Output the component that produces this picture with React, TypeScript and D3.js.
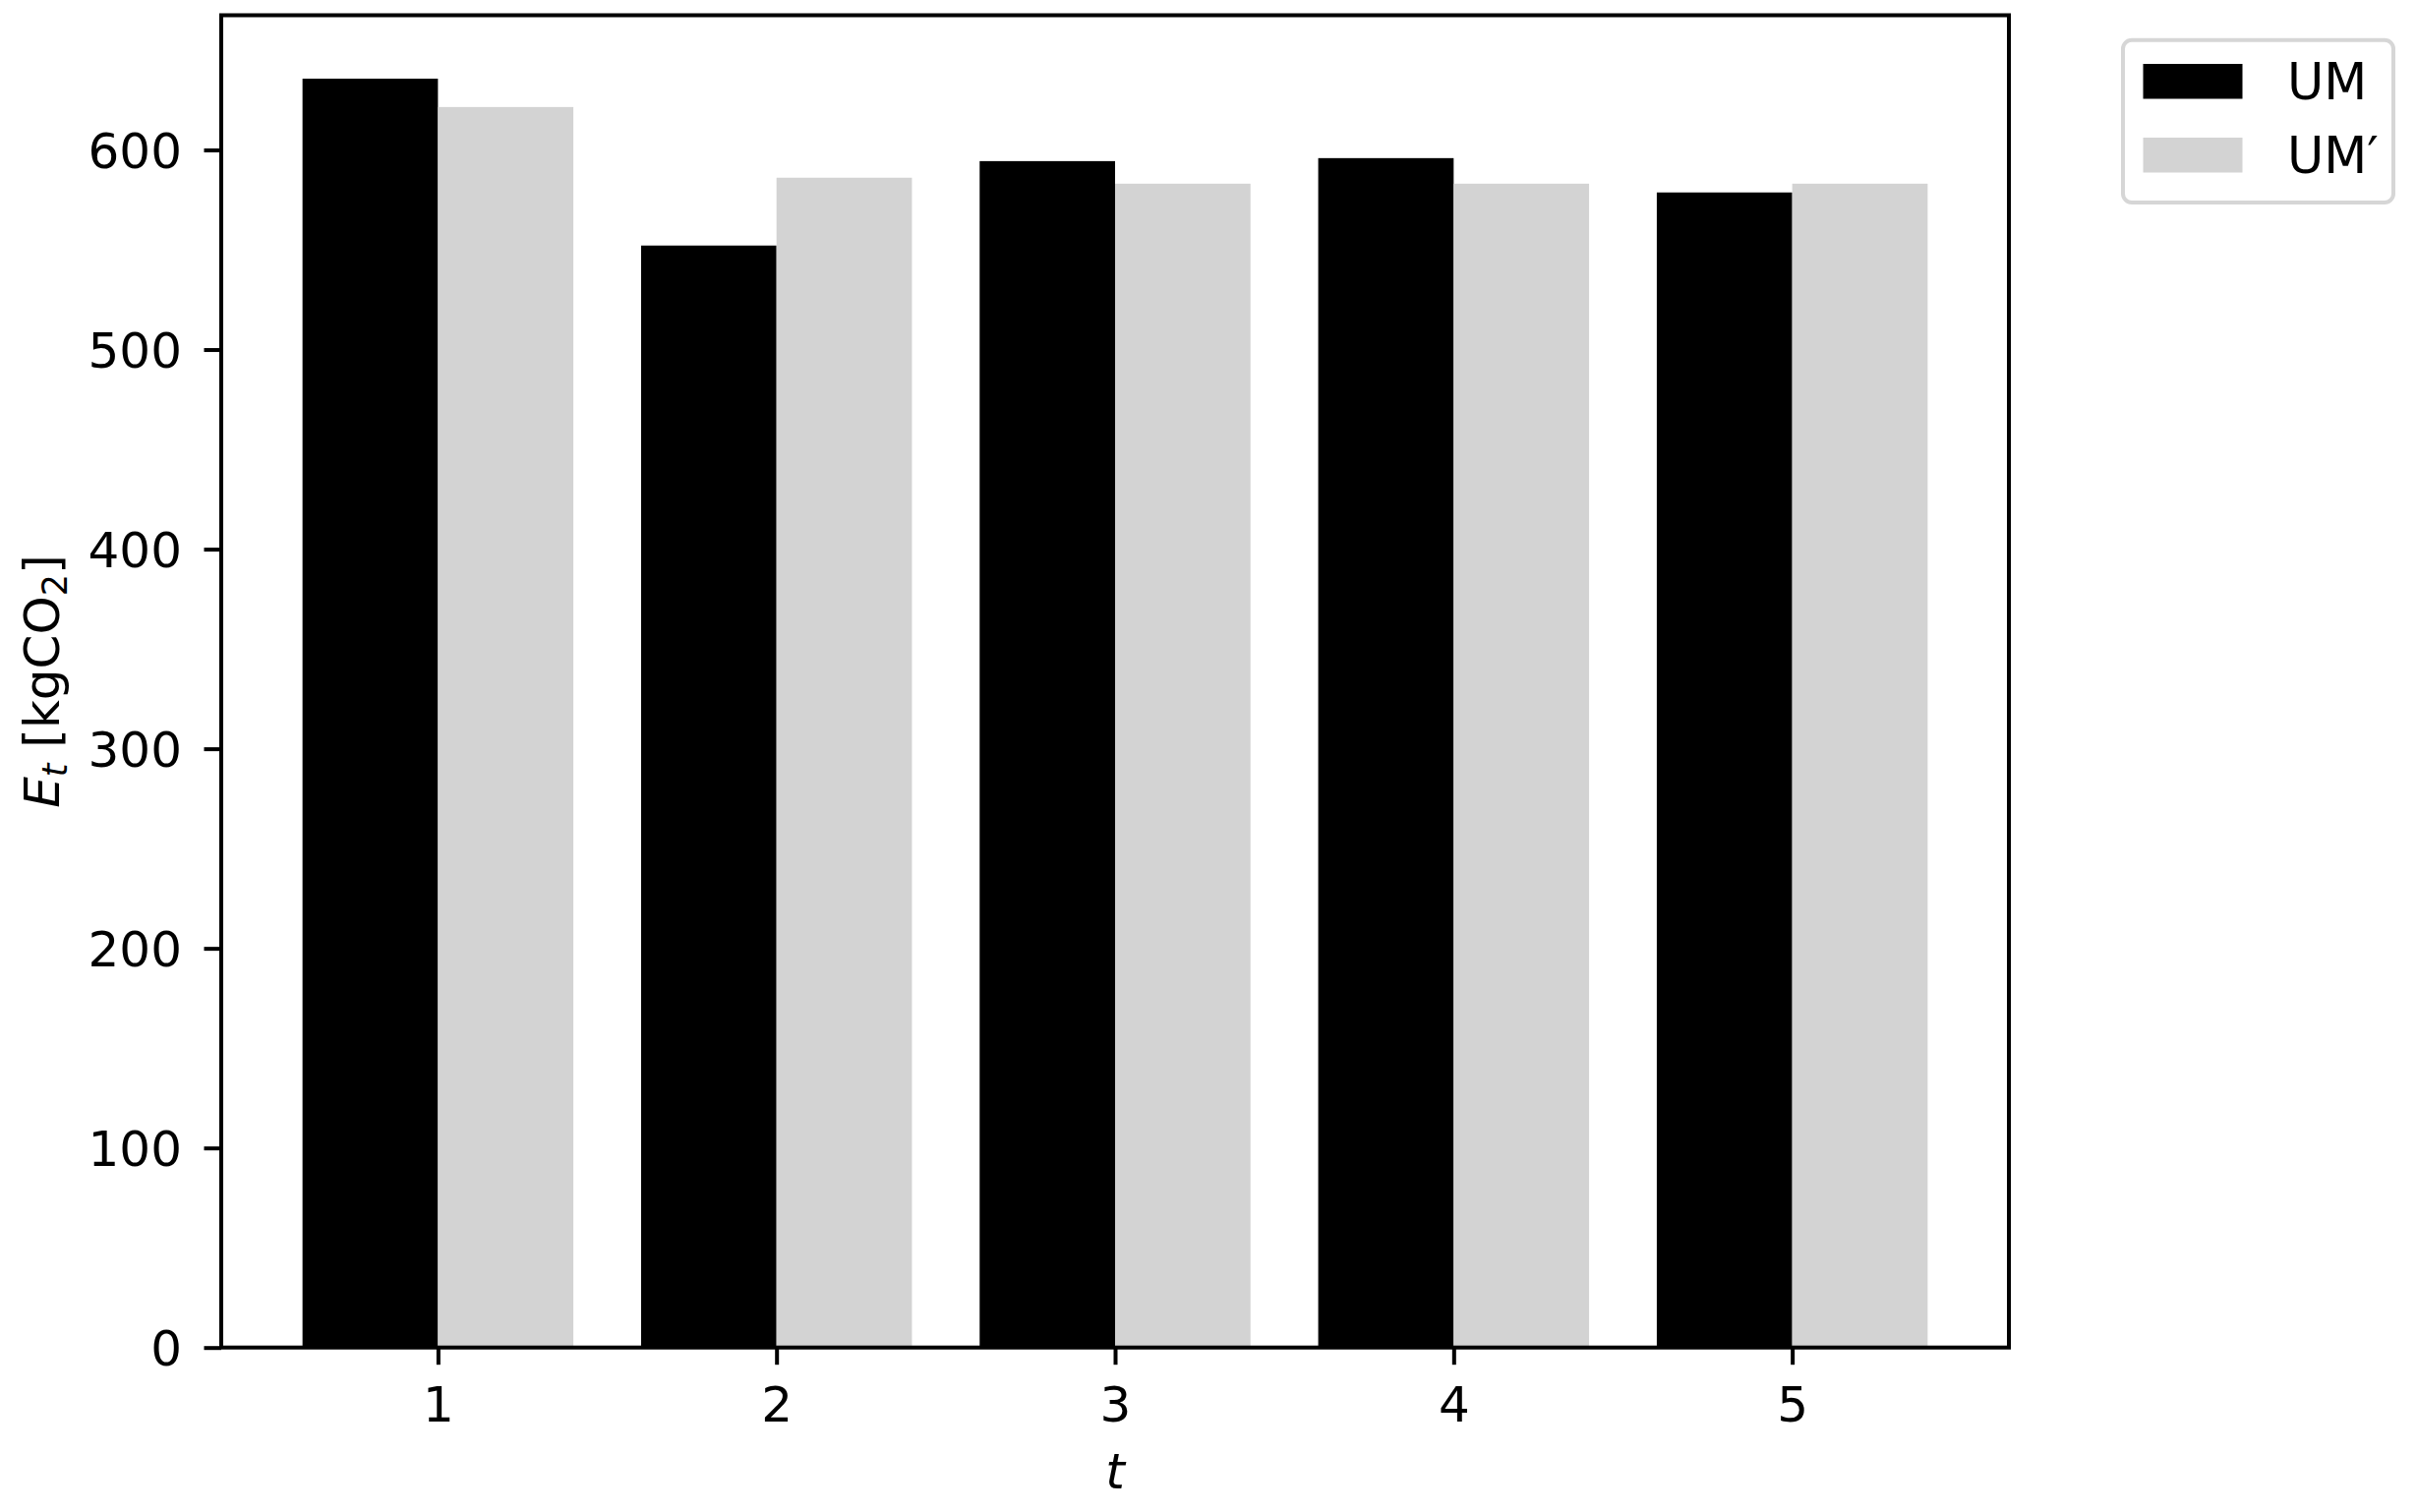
import React, { useEffect, useRef } from 'react';
import * as d3 from 'd3';

// periods on the x axis
const periods = [1, 2, 3, 4, 5];
// emissions E_t [kgCO2]
const umValues = [635.7, 552.1, 594.4, 595.9, 578.7];
const umPrimeValues = [621.5, 586.1, 583.1, 583.1, 583.1];
const yTicks = [0, 100, 200, 300, 400, 500, 600];

const seriesNames = ['UM', 'UM\u2032'];
const seriesColors = ['#000000', '#d3d3d3'];

const W = 2457;
const H = 1538;
const FONT = "'DejaVu Sans', sans-serif";

const App = () => {
  const ref = useRef<SVGSVGElement>(null);

  useEffect(() => {
    document.body.style.margin = '0';
    const svg = d3.select(ref.current);
    svg.selectAll('*').remove();

    const left = 225;
    const right = 2043;
    const top = 15.5;
    const bottom = 1370.7;
    const barW = 0.4;

    const ymax = d3.max([...umValues, ...umPrimeValues]) * 1.05;
    const xScale = d3.scaleLinear().domain([0.36, 5.64]).range([left, right]);
    const yScale = d3.scaleLinear().domain([0, ymax]).range([bottom, top]);

    const series = [umValues, umPrimeValues];

    // bars
    series.forEach((vals, s) => {
      svg
        .append('g')
        .selectAll('rect')
        .data(vals)
        .enter()
        .append('rect')
        .attr('x', (d, i) => xScale(periods[i] - barW + s * barW))
        .attr('width', xScale(barW) - xScale(0))
        .attr('y', (d) => yScale(d))
        .attr('height', (d) => yScale(0) - yScale(d))
        .attr('fill', seriesColors[s]);
    });

    // x axis
    const xAxis = svg
      .append('g')
      .attr('transform', `translate(0, ${bottom})`)
      .call(d3.axisBottom(xScale).tickValues(periods).tickFormat(d3.format('d')).tickSize(17.5).tickPadding(22).tickSizeOuter(0));
    xAxis.select('.domain').remove();
    xAxis.selectAll('line').attr('stroke', '#000').attr('stroke-width', 4);
    xAxis.selectAll('text').attr('font-family', FONT).attr('font-size', 50).attr('fill', '#000');

    // y axis
    const yAxis = svg
      .append('g')
      .attr('transform', `translate(${left}, 0)`)
      .call(d3.axisLeft(yScale).tickValues(yTicks).tickFormat(d3.format('d')).tickSize(17.5).tickPadding(22.5).tickSizeOuter(0));
    yAxis.select('.domain').remove();
    yAxis.selectAll('line').attr('stroke', '#000').attr('stroke-width', 4);
    yAxis.selectAll('text').attr('font-family', FONT).attr('font-size', 50).attr('fill', '#000').attr('dy', '0.365em');

    // frame
    svg
      .append('rect')
      .attr('x', left)
      .attr('y', top)
      .attr('width', right - left)
      .attr('height', bottom - top)
      .attr('fill', 'none')
      .attr('stroke', '#000')
      .attr('stroke-width', 4);

    // x label
    svg
      .append('text')
      .attr('x', (left + right) / 2)
      .attr('y', 1514)
      .attr('text-anchor', 'middle')
      .attr('font-family', FONT)
      .attr('font-size', 50)
      .attr('font-style', 'italic')
      .text('t');

    // y label
    const yl = svg
      .append('text')
      .attr('transform', `translate(60, ${(top + bottom) / 2}) rotate(-90)`)
      .attr('text-anchor', 'middle')
      .attr('font-family', FONT)
      .attr('font-size', 50);
    yl.append('tspan').attr('font-style', 'italic').text('E');
    yl.append('tspan').attr('font-style', 'italic').attr('font-size', 35).attr('dy', 8).text('t');
    yl.append('tspan').attr('dy', -8).text(' [kgCO');
    yl.append('tspan').attr('font-size', 35).attr('dy', 8).text('2');
    yl.append('tspan').attr('dy', -8).text(']');

    // legend
    const lg = svg.append('g');
    lg.append('rect')
      .attr('x', 2159)
      .attr('y', 40.7)
      .attr('width', 275)
      .attr('height', 165.3)
      .attr('rx', 9)
      .attr('fill', 'rgba(255,255,255,0.8)')
      .attr('stroke', '#d6d6d6')
      .attr('stroke-width', 4);
    seriesNames.forEach((name, i) => {
      const y0 = 65 + i * 75;
      lg.append('rect')
        .attr('x', 2179.5)
        .attr('y', y0)
        .attr('width', 101)
        .attr('height', 35.5)
        .attr('fill', seriesColors[i]);
      lg.append('text')
        .attr('x', 2326)
        .attr('y', y0 + 36)
        .attr('font-family', FONT)
        .attr('font-size', 51)
        .attr('fill', '#000')
        .text(name);
    });
  }, []);

  return <svg ref={ref} width={W} height={H} style={{ display: 'block', background: '#fff' }}></svg>;
};

export default App;
